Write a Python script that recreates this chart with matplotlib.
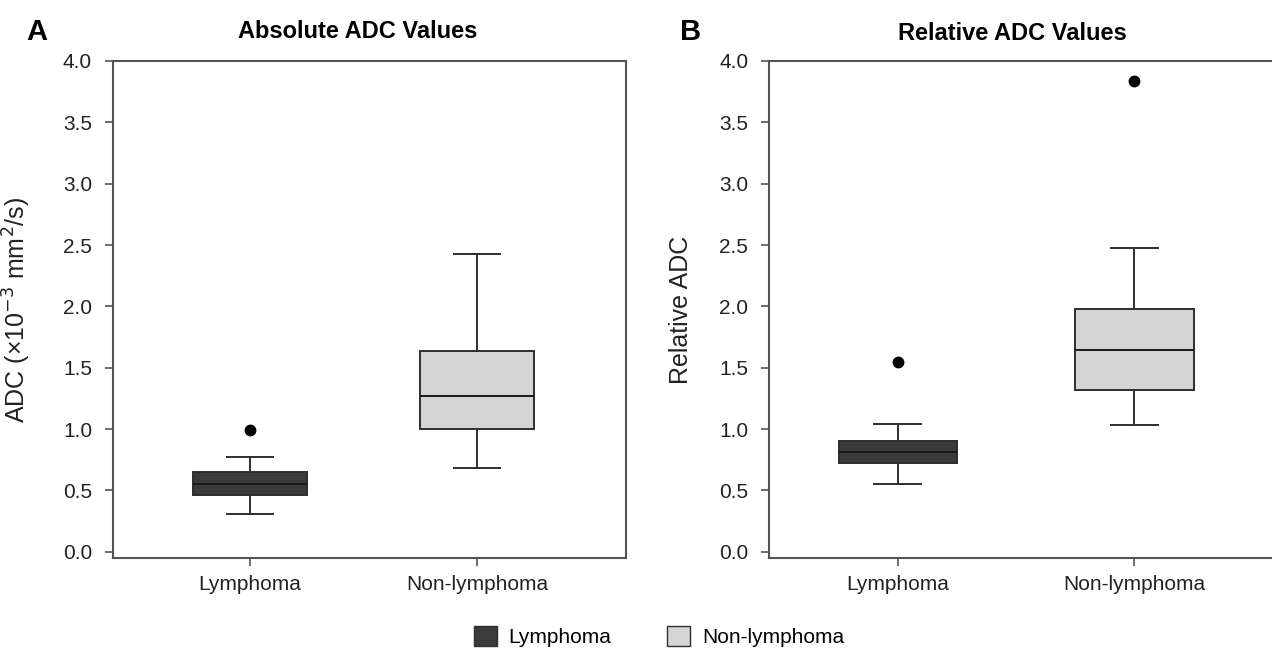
import matplotlib
matplotlib.use("Agg")
from matplotlib import pyplot as plt
from matplotlib.patches import Patch

plt.rcParams['font.family'] = ['Liberation Sans', 'DejaVu Sans']

# box statistics
groups = ["Lymphoma", "Non-lymphoma"]
abs_lymph = dict(whislo=0.31, q1=0.465, med=0.555, q3=0.65, whishi=0.77, fliers=[0.99])
abs_non = dict(whislo=0.685, q1=1.0, med=1.27, q3=1.635, whishi=2.43, fliers=[])
rel_lymph = dict(whislo=0.555, q1=0.725, med=0.815, q3=0.9, whishi=1.04, fliers=[1.55])
rel_non = dict(whislo=1.035, q1=1.32, med=1.645, q3=1.975, whishi=2.48, fliers=[3.84])
yticks = [0.0, 0.5, 1.0, 1.5, 2.0, 2.5, 3.0, 3.5, 4.0]

dark = "#3b3b3b"
light = "#d4d4d4"
edge = "#2e2e2e"
spine_col = "#555555"


def draw_panel(ax, lymph, non, xlim, ylabel, label_x):
    stats = [lymph, non]
    bp = ax.bxp(stats, positions=[1, 2], widths=0.5, capwidths=0.2,
                patch_artist=True, showfliers=True,
                boxprops=dict(linewidth=1.4, edgecolor=edge),
                medianprops=dict(color="#1a1a1a", linewidth=1.4),
                whiskerprops=dict(color=edge, linewidth=1.4),
                capprops=dict(color=edge, linewidth=1.4),
                flierprops=dict(marker="o", markerfacecolor="black",
                                markeredgecolor="black", markersize=7.5))
    bp["boxes"][0].set_facecolor(dark)
    bp["boxes"][1].set_facecolor(light)
    ax.set_xlim(*xlim)
    ax.set_ylim(-0.05, 4.0)
    ax.set_yticks(yticks)
    ax.set_yticklabels([f"{t:.1f}" for t in yticks])
    ax.set_xticks([1, 2])
    ax.set_xticklabels(groups)
    ax.tick_params(axis="both", labelsize=15, length=6, width=1.2,
                   color=spine_col, direction="out", labelcolor="#222222")
    ax.tick_params(axis="x", pad=6)
    ax.tick_params(axis="y", pad=9)
    ax.set_ylabel(ylabel, fontsize=18, color="#222222")
    ax.yaxis.set_label_coords(label_x, 0.5)
    for s in ax.spines.values():
        s.set_color(spine_col)
        s.set_linewidth(1.5)


fig = plt.figure(figsize=(12.72, 6.48), dpi=100)
ax1 = fig.add_axes([0.0888, 0.1389, 0.4033, 0.767])
ax2 = fig.add_axes([0.6046, 0.1389, 0.41, 0.767])

draw_panel(ax1, abs_lymph, abs_non, (0.396, 2.656),
           "ADC (\u00d710$^{\u22123}$ mm$^2$/s)", -0.156)
draw_panel(ax2, rel_lymph, rel_non, (0.456, 2.66), "Relative ADC", -0.146)

fig.text(0.281, 0.951, "Absolute ADC Values", fontsize=17, fontweight="bold",
         ha="center", va="center")
fig.text(0.796, 0.949, "Relative ADC Values", fontsize=17, fontweight="bold",
         ha="center", va="center")
fig.text(0.029, 0.951, "A", fontsize=21, fontweight="bold", ha="center", va="center")
fig.text(0.543, 0.951, "B", fontsize=21, fontweight="bold", ha="center", va="center")

handles = [Patch(facecolor=dark, edgecolor=edge, label="Lymphoma"),
           Patch(facecolor=light, edgecolor=edge, label="Non-lymphoma")]
fig.legend(handles=handles, loc="center", bbox_to_anchor=(0.518, 0.018), ncol=2,
           frameon=False, fontsize=15, handlelength=1.1, handleheight=1.1,
           columnspacing=2.7, handletextpad=0.55)

fig.savefig("out.png", dpi=100)
